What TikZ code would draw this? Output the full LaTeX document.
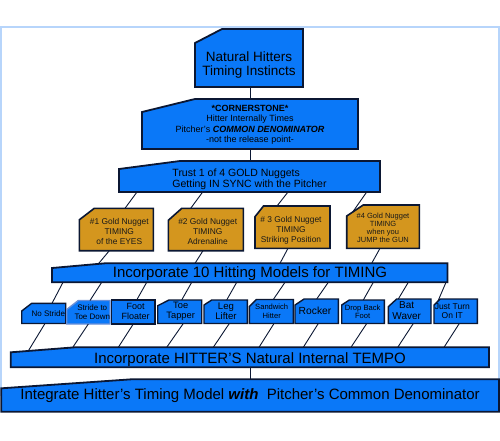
\documentclass[tikz,border=0pt]{standalone}
\usepackage{fontspec}
\setmainfont{Liberation Sans}
\usetikzlibrary{calc}
\definecolor{bfill}{HTML}{0A78F8}
\definecolor{gfill}{HTML}{D4961E}
\definecolor{edge}{HTML}{0B1733}
\definecolor{lightedge}{HTML}{6A90D8}
\definecolor{framec}{HTML}{B7D5FB}
\tikzset{
  bluebox/.style={fill=bfill, draw=edge, line width=1.8pt},
  goldbox/.style={fill=gfill, draw=edge, line width=1.6pt},
  smallbox/.style={fill=bfill, draw=edge, line width=1.4pt},
  conn/.style={draw=edge, line width=0.9pt},
  lbl/.style={text=black, align=center, inner sep=0pt},
  glbl/.style={lbl, text=black!90, font=\fontsize{8.4}{10}\selectfont},
  outerframe/.style={draw=framec, line width=2pt},
}
\newcommand\cutbox[8]{%
  \filldraw[#8] (#2,#3+#7) -- (#2+#6,#3) -- (#4,#3) -- (#4,#5) -- (#2,#5) -- cycle;
  \node[inner sep=0pt,outer sep=0pt,minimum width={(#4)-(#2)},minimum height={(#5)-(#3)}] (#1) at ({((#2)+(#4))/2},{((#3)+(#5))/2}) {};
}
\begin{document}
\begin{tikzpicture}[x=1pt,y=-1pt]
\useasboundingbox (0,0) rectangle (500,440);
\draw[outerframe] (1,27) rectangle (498.5,395);

\cutbox{T}{195}{29}{303}{87}{27}{14}{bluebox}
\node[lbl,font=\fontsize{13.5}{14.5}\selectfont] (Tt) at (249,65) {Natural Hitters\\Timing Instincts};

\cutbox{C}{142}{99}{358}{149}{53}{13}{bluebox}
\node[lbl,font=\fontsize{9}{10.4}\selectfont] (Ct) at (250,124.7) {\textbf{*CORNERSTONE*}\\Hitter Internally Times\\Pitcher's \textbf{\textit{COMMON DENOMINATOR}}\\-not the release point-};

\cutbox{S}{119}{161}{380}{192}{61}{8}{bluebox}
\node[lbl,align=left,font=\fontsize{10.5}{11.7}\selectfont] (St) at (249.5,179.3) {Trust 1 of 4 GOLD Nuggets\\Getting IN SYNC with the Pitcher};

\cutbox{G1}{79.3}{208.3}{153.3}{250.7}{15}{11.5}{goldbox}
\node[glbl] (G1t) at (119.3,231.7) {\#1 Gold Nugget\\TIMING\\of the EYES};
\cutbox{G2}{168.3}{208.3}{243.3}{250.7}{13.5}{12}{goldbox}
\node[glbl] (G2t) at (207.7,231.7) {\#2 Gold Nugget\\TIMING\\Adrenaline};
\cutbox{G3}{255}{206}{330}{248.3}{8.5}{10.7}{goldbox}
\node[glbl] (G3t) at (291,230.5) {\# 3 Gold Nugget\\TIMING\\Striking Position};
\cutbox{G4}{346.7}{205}{419.3}{248.3}{16.5}{11}{goldbox}
\node[glbl,font=\fontsize{7.5}{8.2}\selectfont] (G4t) at (383,227.8) {\#4 Gold Nugget\\TIMING\\when you\\JUMP the GUN};

\cutbox{M}{52}{263.3}{447.5}{282.3}{53}{4.7}{bluebox}
\node[lbl,font=\fontsize{15}{18}\selectfont] (Mt) at (250,274) {Incorporate 10 Hitting Models for TIMING};

\cutbox{B1}{21.7}{303.3}{65.7}{323.5}{10}{7.7}{smallbox}
\node[lbl,font=\fontsize{8}{9}\selectfont] (B1t) at (48.3,313.5) {No Stride};
\cutbox{B2}{66.7}{300.5}{110}{324}{11.6}{9}{smallbox,draw=lightedge}
\node[lbl,font=\fontsize{8}{9}\selectfont] (B2t) at (92.3,312.2) {Stride to\\Toe Down};
\cutbox{B3}{111.7}{300}{155}{324}{0}{0}{smallbox}
\node[lbl,font=\fontsize{9}{10}\selectfont] (B3t) at (135.7,311) {Foot\\Floater};
\cutbox{B4}{157.7}{300}{201.7}{323.5}{11.3}{5.7}{smallbox}
\node[lbl,font=\fontsize{9.3}{10.5}\selectfont] (B4t) at (180.7,311.3) {Toe\\Tapper};
\cutbox{B5}{204}{300}{247.3}{323.5}{7.7}{5}{smallbox}
\node[lbl,font=\fontsize{9.6}{10.5}\selectfont] (B5t) at (226,311.3) {Leg\\Lifter};
\cutbox{B6}{249.3}{299.5}{293.3}{323.5}{7}{7}{smallbox}
\node[lbl,font=\fontsize{7.6}{9}\selectfont] (B6t) at (271.7,311.2) {Sandwich\\Hitter};
\cutbox{B7}{295}{299}{338.3}{323.5}{9}{6}{smallbox}
\node[lbl,font=\fontsize{10.3}{12}\selectfont] (B7t) at (315,311) {Rocker};
\cutbox{B8}{341.7}{300}{384.3}{323.5}{7.6}{5}{smallbox}
\node[lbl,font=\fontsize{7.6}{8.5}\selectfont] (B8t) at (362.7,311.8) {Drop Back\\Foot};
\cutbox{B9}{388.3}{299}{431}{323.5}{8.4}{7.7}{smallbox}
\node[lbl,font=\fontsize{10}{11}\selectfont] (B9t) at (406.7,310.8) {Bat\\Waver};
\cutbox{B10}{434}{299}{477.3}{323.5}{6}{6}{smallbox}
\node[lbl,font=\fontsize{8.5}{9.5}\selectfont] (B10t) at (452.3,311.3) {Just Turn\\On IT};

\cutbox{P}{10.7}{347.3}{489}{367.3}{64}{5}{bluebox}
\node[lbl,font=\fontsize{15}{18}\selectfont] (Pt) at (250,360) {Incorporate HITTER'S Natural Internal TEMPO};

\cutbox{I}{1.3}{379.3}{499}{411.7}{130}{9}{bluebox}
\node[lbl,font=\fontsize{15}{18}\selectfont] (It) at (250,396) {Integrate Hitter's Timing Model \textbf{\textit{with}}~ Pitcher's Common Denominator};

% connectors
\draw[conn] ($(T.south west)+(55,0)$) -- ($(C.north west)+(108,0)$);
\draw[conn] ($(C.south west)+(108,0)$) -- ($(S.north west)+(131,0)$);
\draw[conn] ($(S.south west)+(18,0)$) -- ($(G1.north west)+(45.7,0)$);
\draw[conn] ($(S.south west)+(83.7,0)$) -- ($(G2.north west)+(22.4,0)$);
\draw[conn] ($(S.south west)+(169,0)$) -- ($(G3.north west)+(22,0)$);
\draw[conn] ($(S.south west)+(247.7,0)$) -- ($(G4.north west)+(6,7)$);
\draw[conn] ($(G1.south west)+(30,0)$) -- ($(M.north west)+(46.3,0.6)$);
\draw[conn] ($(G2.south west)+(34.7,0)$) -- ($(M.north west)+(143,0)$);
\draw[conn] ($(G3.south west)+(33,0)$) -- ($(M.north west)+(228,0)$);
\draw[conn] ($(G4.south west)+(33.3,0)$) -- ($(M.north west)+(319.7,0)$);
\draw[conn] ($(M.south west)+(11,0)$) -- ($(B1.north west)+(30.3,0)$);
\draw[conn] ($(M.south west)+(49.7,0)$) -- ($(B2.north west)+(23.3,0)$);
\draw[conn] ($(M.south west)+(94.7,0)$) -- ($(B3.north west)+(25,0)$);
\draw[conn] ($(M.south west)+(139.7,0)$) -- ($(B4.north west)+(24,0)$);
\draw[conn] ($(M.south west)+(184.7,0)$) -- ($(B5.north west)+(22.7,0)$);
\draw[conn] ($(M.south west)+(233,0)$) -- ($(B6.north west)+(24,0)$);
\draw[conn] ($(M.south west)+(276.3,0)$) -- ($(B7.north west)+(21.7,0)$);
\draw[conn] ($(M.south west)+(321.3,0)$) -- ($(B8.north west)+(21.6,0)$);
\draw[conn] ($(M.south west)+(356.3,0)$) -- ($(B9.north west)+(10,0)$);
\draw[conn] ($(M.south west)+(394,0)$) -- ($(B10.north west)+(4,2)$);
\draw[conn] ($(B1.south west)+(23.3,0)$) -- ($(P.north west)+(17.6,3.6)$);
\draw[conn] ($(B2.south west)+(21.6,0)$) -- ($(P.north west)+(62,0.2)$);
\draw[conn] ($(B3.south west)+(21.6,0)$) -- ($(P.north west)+(107.6,0)$);
\draw[conn] ($(B4.south west)+(25.6,0)$) -- ($(P.north west)+(156,0)$);
\draw[conn] ($(B5.south west)+(25.3,0)$) -- ($(P.north west)+(202.6,0)$);
\draw[conn] ($(B6.south west)+(24.7,0)$) -- ($(P.north west)+(248.3,0)$);
\draw[conn] ($(B7.south west)+(23.3,0)$) -- ($(P.north west)+(292.6,0)$);
\draw[conn] ($(B8.south west)+(25,0)$) -- ($(P.north west)+(340.3,0)$);
\draw[conn] ($(B9.south west)+(25,0)$) -- ($(P.north west)+(387,0)$);
\draw[conn] ($(B10.south west)+(25.3,0)$) -- ($(P.north west)+(433.3,0)$);
\draw[conn] ($(P.south west)+(239.3,0)$) -- ($(I.north west)+(248.7,0)$);
\end{tikzpicture}
\end{document}
